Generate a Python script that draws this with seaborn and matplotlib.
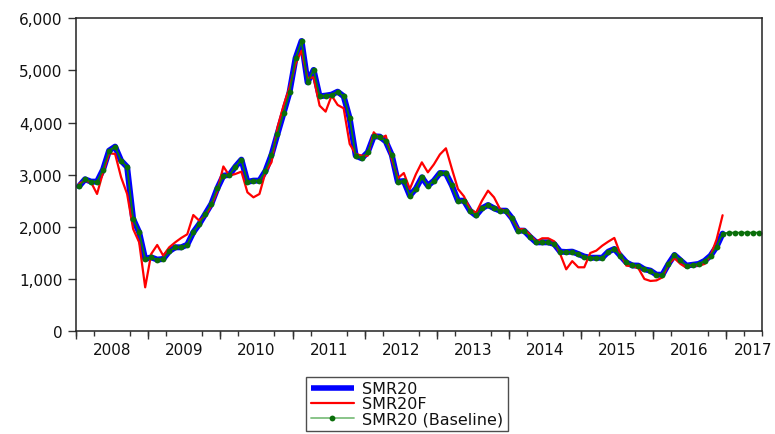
import numpy as np
import pandas as pd
import matplotlib
matplotlib.use("Agg")
import matplotlib.pyplot as plt
import matplotlib.ticker as mticker
import seaborn as sns

# ---------------- data (monthly, 2008M01 .. 2016M12, forecast to 2017M06) ----------------
years = ["2008", "2009", "2010", "2011", "2012", "2013", "2014", "2015", "2016", "2017"]

smr20 = [
    2780, 2914, 2869, 2869, 3100, 3463, 3540, 3272, 3150, 2153, 1898, 1387,   # 2008
    1419, 1374, 1387, 1534, 1610, 1610, 1661, 1898, 2058, 2249, 2441, 2741,   # 2009
    2984, 2997, 3157, 3291, 2863, 2888, 2888, 3073, 3380, 3783, 4179, 4581,   # 2010
    5233, 5565, 4773, 5010, 4505, 4518, 4537, 4594, 4505, 4083, 3367, 3316,   # 2011
    3431, 3738, 3732, 3640, 3380, 2868, 2880, 2600, 2735, 2952, 2791, 2887,   # 2012
    3034, 3028, 2795, 2504, 2504, 2312, 2220, 2358, 2421, 2358, 2312, 2312,   # 2013
    2166, 1929, 1929, 1810, 1706, 1706, 1706, 1674, 1527, 1520, 1527, 1482,   # 2014
    1433, 1410, 1410, 1410, 1527, 1578, 1450, 1320, 1262, 1259, 1188, 1163,   # 2015
    1085, 1085, 1291, 1463, 1360, 1259, 1275, 1291, 1350, 1450, 1623, 1872,   # 2016
]

smr20f = [
    2824, 2888, 2856, 2633, 3048, 3412, 3400, 2952, 2633, 1962, 1706, 843,    # 2008
    1482, 1655, 1450, 1610, 1706, 1790, 1860, 2229, 2120, 2217, 2409, 2696,   # 2009
    3160, 2983, 3016, 3061, 2664, 2568, 2632, 3048, 3240, 3911, 4326, 4677,   # 2010
    5125, 5380, 4850, 4869, 4326, 4211, 4518, 4339, 4275, 3591, 3399, 3367,   # 2011
    3367, 3815, 3687, 3751, 3303, 2933, 3034, 2728, 3009, 3239, 3047, 3200,   # 2012
    3390, 3508, 3111, 2728, 2587, 2344, 2268, 2504, 2696, 2568, 2344, 2300,   # 2013
    2152, 1960, 1955, 1850, 1719, 1783, 1783, 1725, 1482, 1188, 1345, 1227,   # 2014
    1227, 1501, 1546, 1642, 1720, 1790, 1482, 1259, 1250, 1208, 1003, 965,    # 2015
    975, 1035, 1291, 1399, 1291, 1220, 1280, 1255, 1291, 1450, 1760, 2225,    # 2016
]

forecast_2017 = [1891, 1891, 1891, 1891, 1891, 1891]   # 2017M01 .. 2017M06
baseline = smr20 + forecast_2017

labels = ["SMR20", "SMR20F", "SMR20 (Baseline)"]

# ---------------- frames ----------------
df_hist = pd.DataFrame({"t": np.arange(len(smr20)), "SMR20": smr20, "SMR20F": smr20f})
df_base = pd.DataFrame({"t": np.arange(len(baseline)), "Baseline": baseline})

# ---------------- style ----------------
sns.set_style("white")
plt.rcParams["font.family"] = ["DejaVu Sans"]
FS = 11

fig = plt.figure(figsize=(7.75, 4.35), dpi=100)
ax = fig.add_axes([76 / 775, 1 - 332.3 / 435, (761.7 - 76) / 775, (332.3 - 19.3) / 435])

sns.lineplot(data=df_hist, x="t", y="SMR20", ax=ax, color="#0000ff", linewidth=4.3,
             label=labels[0], solid_joinstyle="round")
sns.lineplot(data=df_hist, x="t", y="SMR20F", ax=ax, color="#ff0000", linewidth=1.6,
             label=labels[1])
sns.lineplot(data=df_base, x="t", y="Baseline", ax=ax, color="#0f7f0f", linewidth=1.3,
             marker="o", markersize=4.2, markeredgewidth=0, markerfacecolor="#0a6e0a",
             label=labels[2])

n_months = len(baseline)
ax.set_xlim(-0.5, n_months - 0.5)
ax.set_ylim(0, 6000)

# y axis
ax.yaxis.set_major_locator(mticker.MultipleLocator(1000))
ax.yaxis.set_major_formatter(mticker.FuncFormatter(lambda v, p: f"{int(v):,}"))
ax.tick_params(axis="y", which="major", direction="out", length=5.8, width=1,
               color="#333333", pad=4, labelsize=FS, left=True, right=False,
               labelcolor="#111111")

# x axis: labels at year centres (last one pulled in to fit), minor ticks at quarters
centers = [5.5 + 12 * k for k in range(len(years) - 1)] + [112.0]
ax.set_xticks(centers)
ax.set_xticklabels(years)
ax.set_xticks([-0.5 + 3 * k for k in range(n_months // 3 + 1)], minor=True)
ax.tick_params(axis="x", which="major", length=0, pad=7.5, labelsize=FS,
               labelcolor="#111111")
ax.tick_params(axis="x", which="minor", direction="out", length=3.5, width=1,
               color="#333333", bottom=True)
# longer year-boundary ticks
sec = ax.secondary_xaxis("bottom")
sec.set_xticks([-0.5 + 12 * k for k in range(n_months // 12 + 1)])
sec.tick_params(axis="x", direction="out", length=5.5, width=1, color="#333333",
                labelbottom=False)
sec.spines["bottom"].set_visible(False)

ax.set_xlabel("")
ax.set_ylabel("")
for s in ax.spines.values():
    s.set_visible(True)
    s.set_color("#222222")
    s.set_linewidth(1.1)

ax.grid(False)

# legend below the plot, partly cut by the figure edge
handles, labs = ax.get_legend_handles_labels()
leg = ax.legend(handles, labs, loc="upper left",
                bbox_to_anchor=(306 / 775, 1 - 377.5 / 435),
                bbox_transform=fig.transFigure,
                prop={"size": 11.5}, frameon=True, fancybox=False, shadow=False,
                borderpad=0.3, labelspacing=0.0, handlelength=2.7,
                handletextpad=0.5, borderaxespad=0)
leg.get_frame().set_edgecolor("#222222")
leg.get_frame().set_linewidth(1.0)
for t in leg.get_texts():
    t.set_color("#111111")
leg_lines = leg.get_lines()
leg_lines[0].set_solid_capstyle("butt")
leg_lines[0].set_linewidth(4.0)
# paler green line in legend as in the reference
leg_lines[2].set_color("#7fbf7f")

fig.savefig("out.png", dpi=100)
